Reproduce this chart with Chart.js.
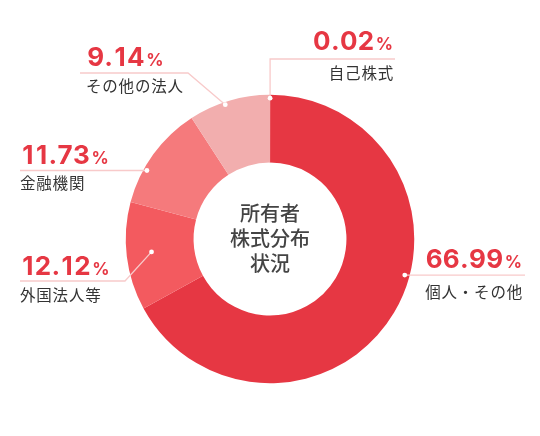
<!DOCTYPE html>
<html lang="ja">
<head>
<meta charset="utf-8">
<title>所有者株式分布状況</title>
<script src="https://cdn.jsdelivr.net/npm/chart.js@4.4.1/dist/chart.umd.min.js"></script>
<style>
    html, body { margin: 0; padding: 0; background: #ffffff; }
    #wrap { position: relative; width: 540px; height: 436px; }
</style>
</head>
<body>
<div id="wrap"><canvas id="ownershipChart"></canvas></div>
<script>
/*
============================================================
Data
============================================================
*/

const categories = ["自己株式", "個人・その他", "外国法人等", "金融機関", "その他の法人"];

const shares = [0.02, 66.99, 12.12, 11.73, 9.14];

const shareLabels = ["0.02", "66.99", "12.12", "11.73", "9.14"];

const centerLines = ["所有者", "株式分布", "状況"];

const sliceColors = ["#fcdcdc", "#e63743", "#f35a5f", "#f57a7c", "#f2aeae"];

/*
============================================================
Callout layout (where each label sits, where the dot sits on its slice)
============================================================
*/

const callouts = [
    { t: 0.5,   ring: 0.95, align: "right", x: 393, numY: 50,  lineY: 59,  subY: 73,  elbowX: null, endX: 395 },
    { t: 0.435, ring: 0.93, align: "right", x: 522, numY: 268, lineY: null, subY: 292, elbowX: null, endX: 525 },
    { t: 0.517, ring: 0.63, align: "left",  x: 21,  numY: 275, lineY: 281, subY: 295, elbowX: 125,  endX: 20 },
    { t: 0.337, ring: 0.95, align: "left",  x: 21,  numY: 164, lineY: null, subY: 183, elbowX: null, endX: 20 },
    { t: 0.44,  ring: 0.96, align: "left",  x: 87,  numY: 66,  lineY: 73,  subY: 86,  elbowX: 188,  endX: 80 }
];

const COLORS = {
    number: "#e63743",
    label: "#333333",
    center: "#444444",
    leader: "#f8caca"
};

const NUMBER_FONT = "700 26px Inter, Roboto, sans-serif";

const PERCENT_FONT = "700 17px Inter, Roboto, sans-serif";

const LABEL_FONT = "400 15.5px 'Noto Sans CJK JP', sans-serif";

/*
============================================================
Callout plugin
============================================================
*/

// per-glyph advance, the "1" is a little wider in the reference face
function advance(ctx, ch) {

    const w = ctx.measureText(ch).width;

    return ch === "1" ? w + 2.5 : w + 0.3;

}

function drawNumber(ctx, text, x, y, align) {

    ctx.textBaseline = "alphabetic";
    ctx.textAlign = "left";

    ctx.font = NUMBER_FONT;
    const chars = text.split("");
    const numWidth = chars.reduce((sum, ch) => sum + advance(ctx, ch), 0);

    ctx.font = PERCENT_FONT;
    const pctWidth = ctx.measureText("%").width;

    const gap = 1.5;
    const total = numWidth + gap + pctWidth;
    const left = align === "right" ? x - total : x;

    ctx.fillStyle = COLORS.number;
    ctx.font = NUMBER_FONT;

    let cx = left;
    chars.forEach((ch) => {
        const a = advance(ctx, ch);
        const w = ctx.measureText(ch).width;
        ctx.fillText(ch, cx + (a - w) / 2, y);
        cx += a;
    });

    ctx.font = PERCENT_FONT;
    ctx.fillText("%", left + numWidth + gap, y);

}

const calloutPlugin = {

    id: "callouts",

    afterDatasetsDraw(chart) {

        const ctx = chart.ctx;
        const arcs = chart.getDatasetMeta(0).data;

        ctx.save();

        arcs.forEach((arc, i) => {

            const c = callouts[i];
            const p = arc.getProps(["x", "y", "startAngle", "endAngle", "innerRadius", "outerRadius"], true);

            const angle = p.startAngle + c.t * (p.endAngle - p.startAngle);
            const r = p.innerRadius + c.ring * (p.outerRadius - p.innerRadius);

            const dotX = p.x + Math.cos(angle) * r;
            const dotY = p.y + Math.sin(angle) * r;

            const lineY = c.lineY === null ? dotY : c.lineY;
            const elbowX = c.elbowX === null ? dotX : c.elbowX;

            // leader line
            ctx.strokeStyle = COLORS.leader;
            ctx.lineWidth = 1.3;
            ctx.beginPath();
            ctx.moveTo(dotX, dotY);
            ctx.lineTo(elbowX, lineY);
            ctx.lineTo(c.endX, lineY);
            ctx.stroke();

            // dot
            ctx.fillStyle = "#ffffff";
            ctx.beginPath();
            ctx.arc(dotX, dotY, 2.4, 0, Math.PI * 2);
            ctx.fill();

            // value
            drawNumber(ctx, shareLabels[i], c.x, c.numY, c.align);

            // category
            ctx.font = LABEL_FONT;
            ctx.letterSpacing = "0.8px";
            ctx.fillStyle = COLORS.label;
            ctx.textAlign = c.align;
            ctx.textBaseline = "middle";
            ctx.fillText(categories[i], c.align === "right" ? c.x + 1 : c.x - 1, c.subY);
            ctx.letterSpacing = "0px";

        });

        // centre title
        const first = arcs[0];
        ctx.font = "500 20px 'Noto Sans CJK JP', sans-serif";
        ctx.fillStyle = COLORS.center;
        ctx.textAlign = "center";
        ctx.textBaseline = "middle";
        centerLines.forEach((line, k) => {
            ctx.fillText(line, first.x, first.y + (k - 1) * 25 - 1);
        });

        ctx.restore();

    }

};

/*
============================================================
Chart
============================================================
*/

const context = document.getElementById("ownershipChart").getContext("2d");

new Chart(context, {

    type: "doughnut",

    data: {

        labels: categories,

        datasets: [

            {

                data: shares,

                backgroundColor: sliceColors,

                borderColor: sliceColors,

                borderWidth: [1.5, 0, 0, 0, 0],

                hoverOffset: 0

            }

        ]

    },

    options: {

        responsive: true,

        maintainAspectRatio: false,

        animation: false,

        cutout: "53%",

        layout: {

            padding: { top: 94, bottom: 52, left: 125, right: 125 }

        },

        plugins: {

            legend: { display: false },

            tooltip: { enabled: false }

        }

    },

    plugins: [calloutPlugin]

});
</script>
</body>
</html>
